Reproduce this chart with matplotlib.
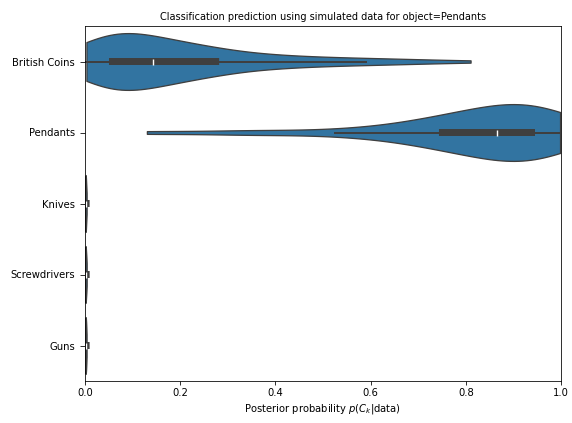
import matplotlib
matplotlib.use("Agg")
import matplotlib.pyplot as plt
import pandas as pd
import seaborn as sns

# posterior probability samples per class
categories = ["British Coins", "Pendants", "Knives", "Screwdrivers", "Guns"]

british_coins = [0.003, 0.008, 0.012, 0.016, 0.02, 0.024, 0.027, 0.03, 0.033, 0.036, 0.038,
                 0.04, 0.042, 0.044, 0.046, 0.048, 0.05, 0.052, 0.054, 0.055, 0.057, 0.058,
                 0.062, 0.066, 0.07, 0.074, 0.078, 0.082, 0.086, 0.09, 0.094, 0.098, 0.102,
                 0.106, 0.11, 0.114, 0.118, 0.122, 0.127, 0.132, 0.137, 0.141, 0.146,
                 0.151, 0.157, 0.163, 0.169, 0.175, 0.181, 0.187, 0.193, 0.199, 0.205, 0.211,
                 0.217, 0.223, 0.229, 0.235, 0.241, 0.247, 0.253, 0.262, 0.272, 0.282,
                 0.29, 0.30, 0.315, 0.33, 0.345, 0.36, 0.375, 0.39, 0.41, 0.43, 0.45,
                 0.475, 0.50, 0.53, 0.56, 0.59, 0.63, 0.67, 0.72, 0.81]
pendants = [0.13, 0.31, 0.40, 0.525, 0.58, 0.63, 0.67, 0.70, 0.72, 0.73, 0.751,
            0.755, 0.77, 0.785, 0.80, 0.815, 0.825, 0.835, 0.845, 0.855, 0.866,
            0.875, 0.885, 0.895, 0.90, 0.905, 0.91, 0.92, 0.925, 0.935, 0.938,
            0.95, 0.955, 0.96, 0.965, 0.97, 0.975, 0.98, 0.985, 0.99, 0.998]
knives = [0.0004, 0.0007, 0.001, 0.0012, 0.0015, 0.0017, 0.002, 0.0024, 0.0028, 0.0034]
screwdrivers = [0.0004, 0.0006, 0.0009, 0.0012, 0.0014, 0.0017, 0.0021, 0.0025, 0.0029, 0.0035]
guns = [0.0005, 0.0008, 0.001, 0.0012, 0.0015, 0.0018, 0.0021, 0.0024, 0.0027, 0.0033]

samples = [british_coins, pendants, knives, screwdrivers, guns]
rows = []
for name, vals in zip(categories, samples):
    for v in vals:
        rows.append({"class": name, "p": v})
df = pd.DataFrame(rows)

fig = plt.figure(figsize=(572 / 72, 423 / 72), dpi=72)
ax = fig.add_axes([85 / 572, 1 - 381 / 423, 476 / 572, 355 / 423])

sns.violinplot(data=df, x="p", y="class", order=categories, orient="h",
               cut=0, density_norm="width", color="C0",
               linewidth=1.3, inner_kws=dict(box_width=7, whis_width=2),
               ax=ax)

# square box ends, as in the original rendering
for line in ax.lines:
    if line.get_linewidth() == 7:
        line.set_solid_capstyle("projecting")
        line.set_snap(False)

ax.set_xlim(0, 1)
ax.set_ylabel("")
ax.set_xlabel(r"Posterior probability $p(C_k|\mathrm{data})$")
ax.set_title("Classification prediction using simulated data for object=Pendants",
             fontsize=9.7)
ax.tick_params(axis="y", length=5, pad=5)

fig.savefig("out.png", dpi=72)
